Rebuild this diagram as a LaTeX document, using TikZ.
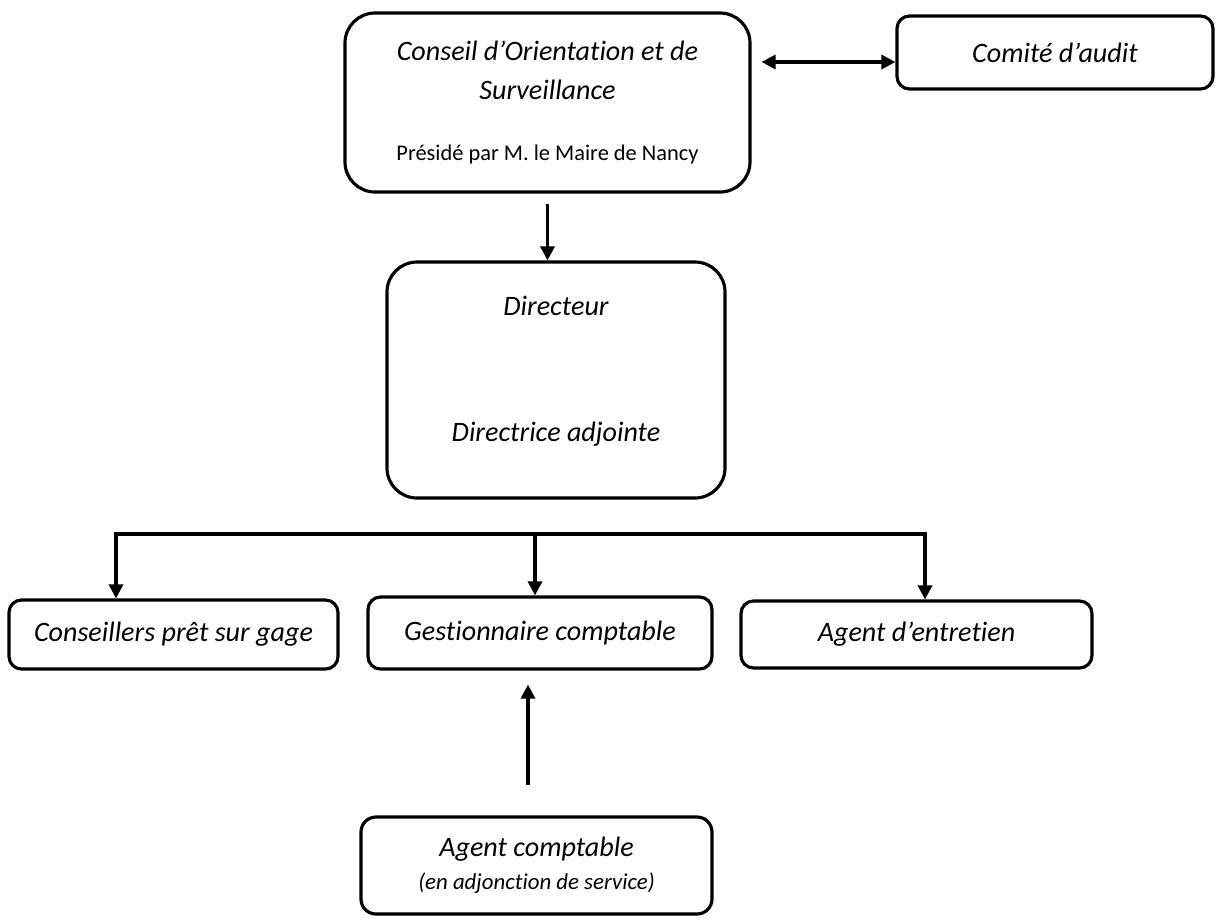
\documentclass[tikz,border=0pt]{standalone}
\usepackage{fontspec}
\setmainfont{Carlito}[Ligatures={TeX,NoCommon}]
\usetikzlibrary{arrows.meta}

\begin{document}
\begin{tikzpicture}[
    box/.style={
        draw,
        line width=1.8pt,
        rounded corners=0.25cm,
        align=center,
        inner sep=0pt,
        font=\fontsize{16}{22}\selectfont\itshape
    },
    bigbox/.style={box, rounded corners=0.6cm},
    arrow/.style={-{Triangle[length=8pt,width=8pt]}, line width=1.8pt},
    darrow/.style={{Triangle[length=8pt,width=8pt]}-{Triangle[length=8pt,width=8pt]}, line width=1.8pt}
]
\useasboundingbox (0,0) rectangle (24.32,-18.46);

\node (conseil) [bigbox, minimum width=8.1cm, minimum height=3.58cm] at (10.95,-2.05)
    {Conseil d’Orientation et de\\Surveillance\\[0.44cm]
     {\normalfont\fontsize{12.75}{14}\selectfont Présidé par M. le Maire de Nancy}};

\node (comite) [box, minimum width=6.32cm, minimum height=1.46cm] at (21.1,-1.05)
    {Comité d’audit};

\node (directeur) [bigbox, minimum width=6.76cm, minimum height=4.72cm] at (11.12,-7.6)
    {Directeur\\[1.76cm]Directrice adjointe\rule[-0.45cm]{0pt}{0pt}};

\node (conseillers) [box, minimum width=6.58cm, minimum height=1.38cm] at (3.47,-12.69)
    {Conseillers prêt sur gage};

\node (gestionnaire) [box, minimum width=6.88cm, minimum height=1.44cm] at (10.8,-12.66)
    {Gestionnaire comptable};

\node (entretien) [box, minimum width=7.02cm, minimum height=1.34cm] at (18.33,-12.69)
    {Agent d’entretien};

\node (comptable) [box, rounded corners=0.3cm, minimum width=7.02cm, minimum height=1.94cm] at (10.73,-17.31)
    {Agent comptable\\[-0.11cm]{\fontsize{13}{15}\selectfont (en adjonction de service)}};

% liaisons
\coordinate (lien) at ([yshift=-0.19cm]comite.west);
\coordinate (lienG) at (lien -| conseil.east);
\draw [darrow] ([xshift=0.2cm]lienG) -- (lien);

\draw [arrow] ([yshift=-0.2cm]conseil.south) -- (conseil.south |- directeur.north);

\coordinate (barL) at (2.32,-10.68);
\coordinate (barM) at (10.7,-10.68);
\coordinate (barR) at (18.5,-10.68);
\draw [darrow] (barL |- conseillers.north) -- (barL) -- (barR) -- (barR |- entretien.north);
\draw [arrow] (barM) -- (barM |- gestionnaire.north);

\draw [arrow] ([xshift=-0.17cm,yshift=0.6cm]comptable.north) -- ([xshift=-0.24cm,yshift=-0.28cm]gestionnaire.south);

\end{tikzpicture}
\end{document}
